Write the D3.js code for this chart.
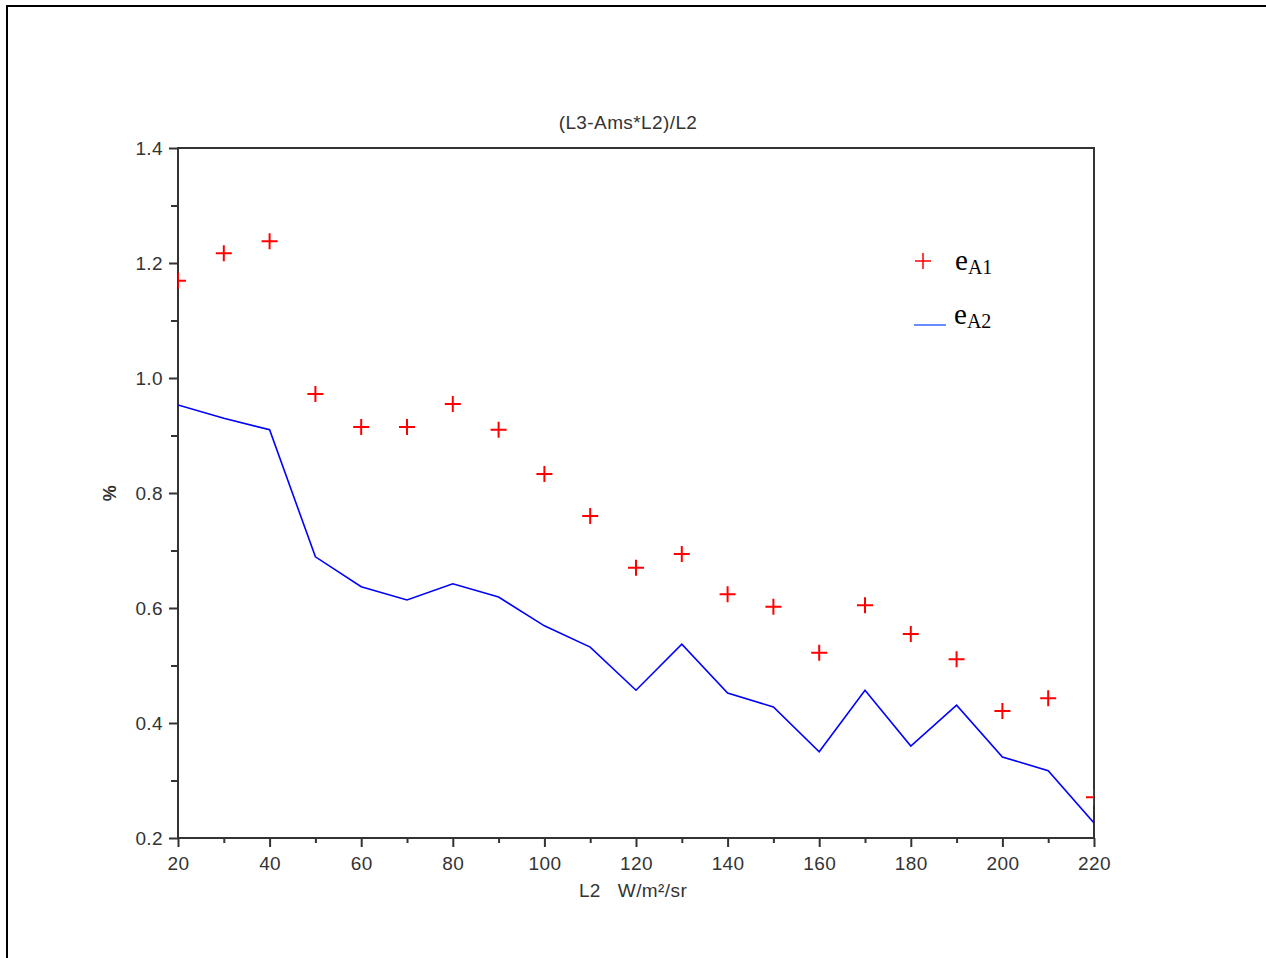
<!DOCTYPE html>
<html>
<head>
<meta charset="utf-8">
<script src="https://cdn.jsdelivr.net/npm/d3@7"></script>
<style>
  body { margin: 0; background: #fff; }
  text { font-family: "Liberation Sans", Arial, sans-serif; fill: #333; letter-spacing: 0.4px; }
  .tick text { font-size: 19px; }
  .legend text { font-family: "Liberation Serif", "Times New Roman", serif; fill: #000; letter-spacing: 0; }
</style>
</head>
<body>
<div id="chart"></div>
<script>
// x values (L2, W/m2/sr)
var l2 = [20, 30, 40, 50, 60, 70, 80, 90, 100, 110, 120, 130, 140, 150, 160, 170, 180, 190, 200, 210, 220];
// eA1, plotted as red crosses
var eA1 = [1.169, 1.217, 1.238, 0.972, 0.915, 0.915, 0.955, 0.910, 0.833, 0.760, 0.670, 0.694, 0.624, 0.602, 0.522, 0.605, 0.555, 0.511, 0.421, 0.443, 0.271];
// eA2, plotted as blue line
var eA2 = [0.953, 0.930, 0.910, 0.689, 0.637, 0.614, 0.642, 0.619, 0.569, 0.532, 0.457, 0.537, 0.452, 0.428, 0.350, 0.457, 0.360, 0.431, 0.341, 0.317, 0.226];

var xTicks = [20, 40, 60, 80, 100, 120, 140, 160, 180, 200, 220];
var yTicks = [0.2, 0.4, 0.6, 0.8, 1.0, 1.2, 1.4];

var svgWidth = 1266;
var svgHeight = 958;

var margin = { top: 148, right: 172, bottom: 120, left: 178 };
var width = svgWidth - margin.left - margin.right;   // 916
var height = svgHeight - margin.top - margin.bottom; // 690

var svg = d3.select("#chart")
  .append("svg")
  .attr("width", svgWidth)
  .attr("height", svgHeight);

// page frame
svg.append("rect")
  .attr("x", 7).attr("y", 6)
  .attr("width", 1280).attr("height", 1000)
  .attr("fill", "none")
  .attr("stroke", "#000")
  .attr("stroke-width", 2);

var g = svg.append("g")
  .attr("transform", `translate(${margin.left}, ${margin.top})`);

var x = d3.scaleLinear().domain([20, 220]).range([0, width]);
var y = d3.scaleLinear().domain([0.2, 1.4]).range([height, 0]);

g.append("clipPath").attr("id", "clip")
  .append("rect").attr("width", width).attr("height", height);

// minor ticks
g.append("g")
  .attr("transform", `translate(0,${height})`)
  .call(d3.axisBottom(x).tickValues(d3.range(30, 220, 20)).tickSize(5).tickFormat(""))
  .call(a => a.select(".domain").remove());
g.append("g")
  .call(d3.axisLeft(y).tickValues([0.3, 0.5, 0.7, 0.9, 1.1, 1.3]).tickSize(7).tickFormat(""))
  .call(a => a.select(".domain").remove());

// major ticks
var xAxis = g.append("g")
  .attr("transform", `translate(0,${height})`)
  .call(d3.axisBottom(x).tickValues(xTicks).tickSize(9).tickPadding(10).tickFormat(d3.format("d")));
xAxis.select(".domain").remove();

var yAxis = g.append("g")
  .call(d3.axisLeft(y).tickValues(yTicks).tickSize(9).tickPadding(6).tickFormat(d3.format(".1f")));
yAxis.select(".domain").remove();

g.selectAll(".tick line").attr("stroke", "#333").attr("stroke-width", 2);

// plot box
g.append("rect")
  .attr("width", width).attr("height", height)
  .attr("fill", "none")
  .attr("stroke", "#333")
  .attr("stroke-width", 2);

var plot = g.append("g").attr("clip-path", "url(#clip)");

// eA2 line
var line = d3.line()
  .x((d, i) => x(l2[i]))
  .y(d => y(d));

plot.append("path")
  .datum(eA2)
  .attr("d", line)
  .attr("fill", "none")
  .attr("stroke", "#0000ff")
  .attr("stroke-width", 1.6);

// eA1 crosses
plot.selectAll(".cross")
  .data(eA1)
  .enter()
  .append("path")
  .attr("class", "cross")
  .attr("transform", (d, i) => `translate(${x(l2[i])},${y(d)})`)
  .attr("d", "M-8,0H8M0,-8V8")
  .attr("stroke", "#ff0000")
  .attr("stroke-width", 2);

// title and axis labels
svg.append("text")
  .attr("x", 628)
  .attr("y", 129)
  .attr("text-anchor", "middle")
  .attr("font-size", 19)
  .text("(L3-Ams*L2)/L2");

svg.append("text")
  .attr("x", 633)
  .attr("y", 897)
  .attr("text-anchor", "middle")
  .attr("font-size", 19)
  .attr("xml:space", "preserve")
  .text("L2   W/m²/sr");

svg.append("text")
  .attr("transform", "translate(116,493) rotate(-90)")
  .attr("text-anchor", "middle")
  .attr("font-size", 18)
  .attr("font-weight", "bold")
  .text("%");

// legend
var legend = svg.append("g").attr("class", "legend");
legend.append("path")
  .attr("d", "M915,261H931M923,253V269")
  .attr("stroke", "#ff0000")
  .attr("stroke-width", 1.5);
var t1 = legend.append("text").attr("x", 955).attr("y", 270).attr("font-size", 29);
t1.append("tspan").text("e");
t1.append("tspan").attr("font-size", 20).attr("dy", 4).text("A1");

legend.append("line")
  .attr("x1", 914).attr("x2", 946)
  .attr("y1", 325).attr("y2", 325)
  .attr("stroke", "#3366ff")
  .attr("stroke-width", 1.5);
var t2 = legend.append("text").attr("x", 954).attr("y", 324).attr("font-size", 29);
t2.append("tspan").text("e");
t2.append("tspan").attr("font-size", 20).attr("dy", 4).text("A2");
</script>
</body>
</html>
